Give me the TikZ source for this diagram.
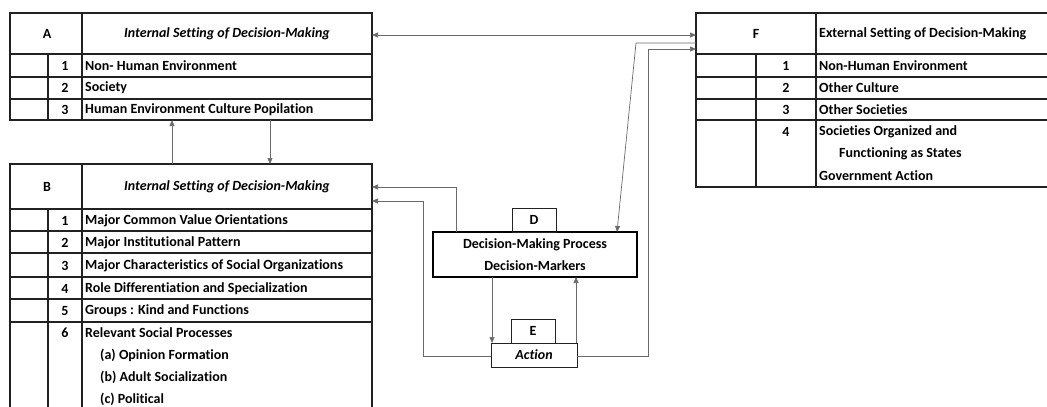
\documentclass[tikz,border=0pt]{standalone}
\usepackage{fontspec}
\setmainfont{Carlito}[Ligatures={NoCommon}]
\usetikzlibrary{arrows.meta}
\definecolor{conncol}{HTML}{6A6A6A}
\definecolor{tabcol}{HTML}{222222}
\tikzset{
  tbox/.style={draw=tabcol, line width=1.3pt, inner sep=0pt, outer sep=0pt},
  tline/.style={draw=tabcol, line width=1.3pt},
  lbox/.style={draw=tabcol, line width=0.9pt, inner sep=0pt, outer sep=0pt},
  conn/.style={draw=conncol, line width=0.7pt, -{Triangle[length=6pt,width=5pt]}},
  txt/.style={font=\fontsize{14}{16}\selectfont\bfseries, inner sep=0pt, anchor=west},
  ctxt/.style={font=\fontsize{14}{16}\selectfont\bfseries, inner sep=0pt},
  itxt/.style={font=\fontsize{14}{16}\selectfont\bfseries\itshape, inner sep=0pt},
}
\begin{document}
\begin{tikzpicture}[x=1pt,y=-1pt]
\useasboundingbox (0,0) rectangle (1047,407);
\fill[white] (0,0) rectangle (1047,407);
% ---------- Table A ----------
\node[tbox, minimum width=362pt, minimum height=107pt] (A) at (191,66.5) {};
\draw[tline] (10,54) -- (372,54) (10,77) -- (372,77) (10,99) -- (372,99);
\draw[tline] (82,13) -- (82,120) (48,54) -- (48,120);
\node[ctxt] (Al) at (47,34) {A};
\node[itxt] (Ah) at (227,34) {Internal Setting of Decision-Making};
\node[ctxt] (An1) at (65,66) {1};
\node[ctxt] (An2) at (65,88) {2};
\node[ctxt] (An3) at (65,110) {3};
\node[txt] (At1) at (85,66) {Non- Human Environment};
\node[txt] (At2) at (85,88) {Society};
\node[txt] (At3) at (85,110) {Human Environment Culture Popilation};
% ---------- Table B ----------
\node[tbox, minimum width=362pt, minimum height=248pt] (B) at (191,288) {};
\draw[tline] (10,209) -- (372,209) (10,231) -- (372,231) (10,253) -- (372,253)
  (10,277) -- (372,277) (10,299) -- (372,299) (10,322) -- (372,322);
\draw[tline] (82,164) -- (82,412) (48,209) -- (48,412);
\node[ctxt] (Bl) at (47,187) {B};
\node[itxt] (Bh) at (227,187) {Internal Setting of Decision-Making};
\node[ctxt] (Bn1) at (65,221) {1};
\node[ctxt] (Bn2) at (65,243) {2};
\node[ctxt] (Bn3) at (65,266) {3};
\node[ctxt] (Bn4) at (65,289) {4};
\node[ctxt] (Bn5) at (65,311) {5};
\node[ctxt] (Bn6) at (65,333) {6};
\node[txt] (Bt1) at (85,221) {Major Common Value Orientations};
\node[txt] (Bt2) at (85,243) {Major Institutional Pattern};
\node[txt] (Bt3) at (85,266) {Major Characteristics of Social Organizations};
\node[txt] (Bt4) at (85,289) {Role Differentiation and Specialization};
\node[txt] (Bt5) at (85,311) {Groups : Kind and Functions};
\node[txt] (Bt6) at (85,333) {Relevant Social Processes};
\node[txt] (Bt6a) at (100,355) {(a) Opinion Formation};
\node[txt] (Bt6b) at (100,377) {(b) Adult Socialization};
\node[txt] (Bt6c) at (100,399) {(c) Political};
% ---------- Table F ----------
\node[tbox, minimum width=354pt, minimum height=174pt] (F) at (873,100) {};
\draw[tline] (696,54) -- (1050,54) (696,77) -- (1050,77) (696,99) -- (1050,99) (696,120) -- (1050,120);
\draw[tline] (816,13) -- (816,187) (756,54) -- (756,187);
\node[ctxt] (Fl) at (756,34) {F};
\node[txt] (Fh) at (819,34) {External Setting of Decision-Making};
\node[ctxt] (Fn1) at (786,66) {1};
\node[ctxt] (Fn2) at (786,88) {2};
\node[ctxt] (Fn3) at (786,110) {3};
\node[ctxt] (Fn4) at (786,132) {4};
\node[txt] (Ft1) at (819,66) {Non-Human Environment};
\node[txt] (Ft2) at (819,88) {Other Culture};
\node[txt] (Ft3) at (819,110) {Other Societies};
\node[txt] (Ft4) at (819,132) {Societies Organized and};
\node[txt] (Ft4b) at (839,154) {Functioning as States};
\node[txt] (Ft4c) at (819,176) {Government Action};
% ---------- D and E ----------
\node[draw=black, line width=2.2pt, inner sep=0pt, outer sep=0pt, minimum width=204pt, minimum height=45pt,
  align=center, font=\fontsize{14}{22}\selectfont\bfseries] (D) at (535,254.5)
  {Decision-Making Process\\Decision-Markers};
\node[lbox, minimum width=44pt, minimum height=24pt, font=\fontsize{14}{16}\selectfont\bfseries] (Dl) at (534,220) {D};
\node[lbox, minimum width=86pt, minimum height=24pt, font=\fontsize{14}{16}\selectfont\bfseries\itshape] (Act) at (534,355) {Action};
\node[lbox, minimum width=44pt, minimum height=24pt, font=\fontsize{14}{16}\selectfont\bfseries] (El) at (533,331) {E};
% ---------- coordinates ----------
\coordinate (aF) at (372,35);
\coordinate (fA) at (696,35);
\coordinate (bA1) at (172,164);
\coordinate (aB1) at (172,120);
\coordinate (aB2) at (270,120);
\coordinate (bA2) at (270,164);
\coordinate (dB) at (456,232);
\coordinate (bD) at (372,187);
\coordinate (actB) at (491,356);
\coordinate (bAct) at (372,201);
\coordinate (dAct) at (492,277);
\coordinate (actD) at (492,343);
\coordinate (actD2) at (576,343);
\coordinate (dAct2) at (576,277);
\coordinate (actF) at (577,356);
\coordinate (fAct) at (696,49);
\coordinate (fD) at (696,43);
\coordinate (dF) at (617,232);
% ---------- connectors ----------
\draw[conn, {Triangle[length=6pt,width=5pt]}-{Triangle[length=6pt,width=5pt]}] (aF) -- (fA);
\draw[conn] (bA1) -- (aB1);
\draw[conn] (aB2) -- (bA2);
\draw[conn] (dB) |- (bD);
\draw[conn] (actB) -- (423,356) |- (bAct);
\draw[conn] (dAct) -- (actD);
\draw[conn] (actD2) -- (dAct2);
\draw[conn] (actF) -- (648,356) |- (fAct);
\draw[conn] (fD) -- (636,43) -- (dF);
\end{tikzpicture}
\end{document}
